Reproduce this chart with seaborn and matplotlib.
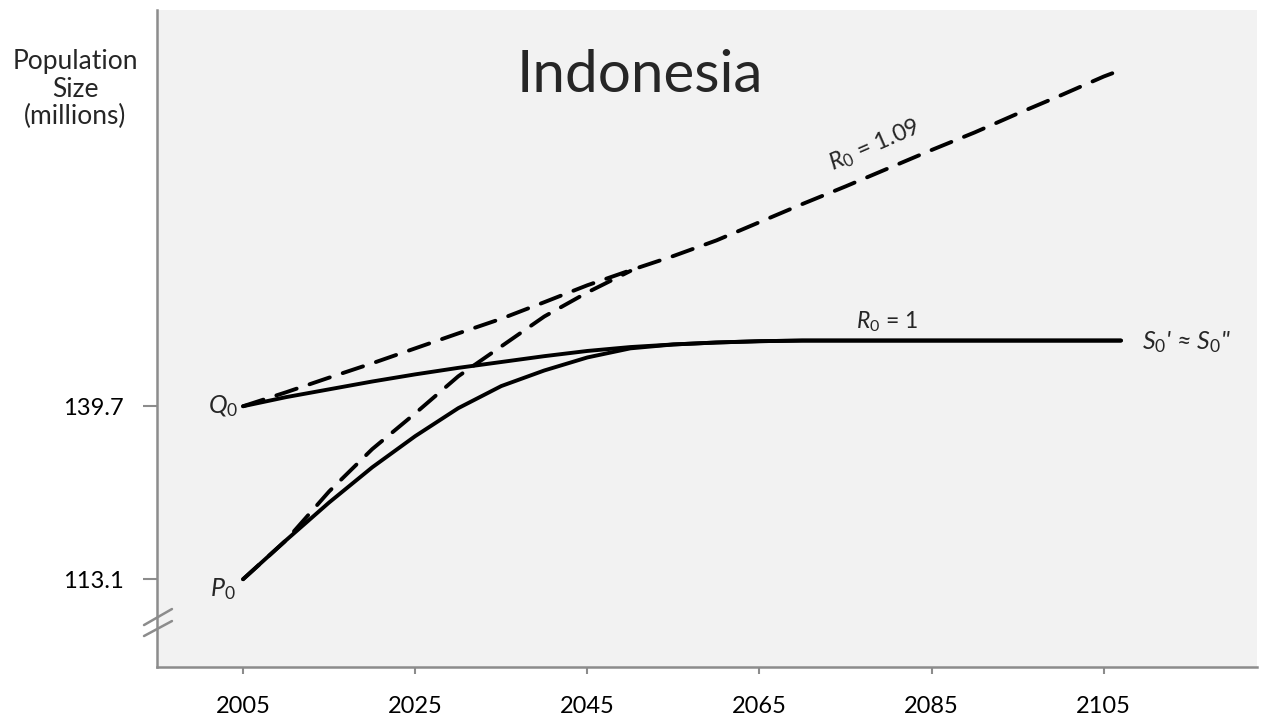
import matplotlib
matplotlib.use("Agg")
import matplotlib.pyplot as plt
import seaborn as sns
import pandas as pd

# Projection years and population sizes (millions)
years = [2005, 2010, 2015, 2020, 2025, 2030, 2035, 2040, 2045, 2050, 2055,
         2060, 2065, 2070, 2075, 2080, 2085, 2090, 2095, 2100, 2105, 2107]

# R0 = 1 trajectories (solid) starting from Q0 and P0
q0_replacement = [139.7, 141.1, 142.3, 143.5, 144.6, 145.6, 146.5, 147.4, 148.2,
                  148.8, 149.2, 149.5, 149.7, 149.8, 149.8, 149.8, 149.8, 149.8,
                  149.8, 149.8, 149.8, 149.8]
p0_replacement = [113.1, 119.1, 124.9, 130.3, 135.1, 139.4, 142.8, 145.2, 147.2,
                  148.6, 149.2, 149.5, 149.7, 149.8, 149.8, 149.8, 149.8, 149.8,
                  149.8, 149.8, 149.8, 149.8]

# R0 = 1.09 trajectories (dashed); the P0 path merges into the Q0 path by 2050
q0_growth = [139.7, 141.85, 144.1, 146.3, 148.6, 150.9, 153.15, 155.7, 158.3,
             160.6, 162.8, 165.2, 168.0, 170.8, 173.5, 176.3, 179.1, 181.8,
             184.7, 187.5, 190.4, 191.4]
p0_growth = [113.1, 119.1, 126.6, 133.1, 138.6, 144.3, 148.9, 153.5, 157.2,
             160.5]

x_ticks = [2005, 2025, 2045, 2065, 2085, 2105]
y_ticks = [113.1, 139.7]

sns.set_theme(style="white")
plt.rcParams["font.family"] = ["Lato", "DejaVu Sans"]
plt.rcParams["mathtext.fontset"] = "custom"
plt.rcParams["mathtext.rm"] = "Lato"
plt.rcParams["mathtext.it"] = "Lato:italic"

fig = plt.figure(figsize=(12.62, 7.27), dpi=100)
ax = fig.add_axes([0.1244, 0.0825, 0.8716, 0.9035])
ax.set_facecolor("#f2f2f2")

solid = pd.DataFrame({"year": years, "q": q0_replacement, "p": p0_replacement})
dash_q = pd.DataFrame({"year": years, "pop": q0_growth})
dash_p = pd.DataFrame({"year": years[:len(p0_growth)], "pop": p0_growth})

lw = 2.8
for col in ["q", "p"]:
    sns.lineplot(data=solid, x="year", y=col, ax=ax, color="black", lw=lw,
                 solid_capstyle="round", solid_joinstyle="round")
for d in [dash_q, dash_p]:
    sns.lineplot(data=d, x="year", y="pop", ax=ax, color="black", lw=lw)
    ln = ax.lines[-1]
    ln.set_dashes((5.5, 3.5))
    ln.set_dash_capstyle("round")

ax.set_xlim(1995, 2122.8)
ax.set_ylim(99.6, 200.6)

ax.set_xticks(x_ticks)
ax.set_xticklabels([str(t) for t in x_ticks], fontsize=17)
ax.set_yticks(y_ticks)
ax.set_yticklabels([f"{t:.1f}" for t in y_ticks], fontsize=17)
ax.tick_params(axis="x", direction="out", length=5, width=1.5, color="#8c8c8c",
               pad=16, bottom=True, labelcolor="black")
ax.tick_params(axis="y", direction="out", length=10, width=1.5, color="#8c8c8c",
               pad=14, left=True, labelcolor="black")

for side in ["top", "right"]:
    ax.spines[side].set_visible(False)
for side in ["left", "bottom"]:
    ax.spines[side].set_color("#8c8c8c")
    ax.spines[side].set_linewidth(1.8)

ax.set_xlabel("")
ax.set_ylabel("")

# Axis break marks on the y axis
for y0, y1 in [(0.0639, 0.0883), (0.0472, 0.0700)]:
    ax.plot([-0.0118, 0.0136], [y0, y1], transform=ax.transAxes,
            color="#8c8c8c", lw=1.8, clip_on=False)

# Titles and labels
ax.text(0.439, 0.901, "Indonesia", transform=ax.transAxes, fontsize=42,
        ha="center", va="center")
fig.text(0.0594, 0.877, "Population\nSize\n(millions)", fontsize=19,
         ha="center", va="center", linespacing=1.12)

it0 = r"_{\mathit{0}}"
ax.text(2004.4, 138.6, rf"$Q{it0}$", fontsize=18, ha="right", va="baseline")
ax.text(2004.1, 110.5, rf"$P{it0}$", fontsize=18, ha="right", va="baseline")
ax.text(2079.8, 151.7, rf"$R{it0}$ = 1", fontsize=16.5, ha="center",
        va="baseline")
ax.text(2078.4, 179.8, rf"$R{it0}$ = 1.09", fontsize=17, ha="center",
        va="center", rotation=23.5)
ax.text(2109.5, 148.5, rf"$S{it0}$' ≈ $S{it0}$''", fontsize=18, ha="left",
        va="baseline", style="italic")

fig.savefig("out.png", dpi=100)
